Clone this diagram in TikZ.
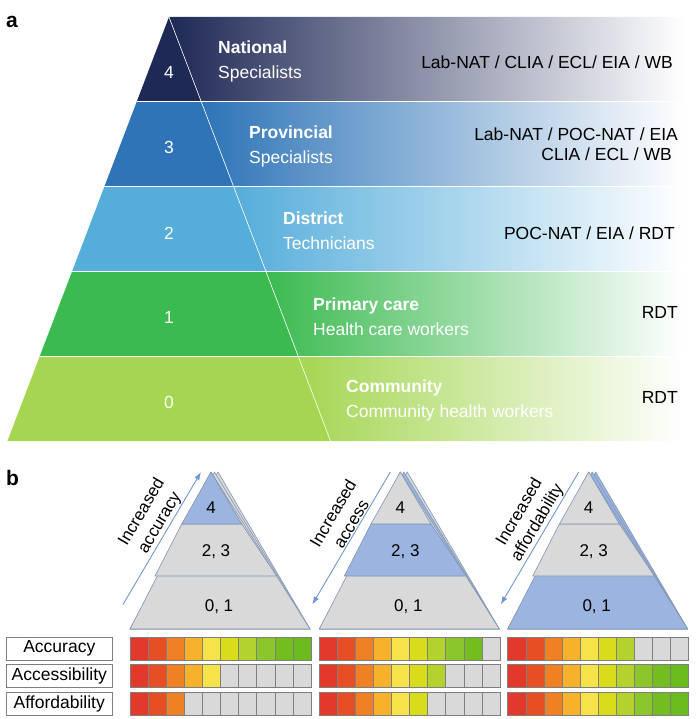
\documentclass[tikz,border=0pt]{standalone}
\usepackage{fontspec}
\setmainfont{Liberation Sans}
\usepackage{xcolor}
\usepackage{tikz}
\usetikzlibrary{
  arrows.meta,
  positioning,
  calc
}
\definecolor{LvlFour}{HTML}{1F2956}
\definecolor{LvlThree}{HTML}{2E74B7}
\definecolor{LvlTwo}{HTML}{55ADDA}
\definecolor{LvlOne}{HTML}{3BBA50}
\definecolor{LvlZero}{HTML}{A4D652}
\definecolor{PyrGrey}{HTML}{D9D9D9}
\definecolor{PyrBlue}{HTML}{9BB5E0}
\definecolor{PyrEdge}{HTML}{8195B5}
\definecolor{ArrowBlue}{HTML}{6F98D2}
\definecolor{CellGrey}{HTML}{D9D9D9}
\definecolor{CellEdge}{HTML}{7F7F7F}
\definecolor{Ramp0}{HTML}{E1392B}
\definecolor{Ramp1}{HTML}{E84E24}
\definecolor{Ramp2}{HTML}{EF8023}
\definecolor{Ramp3}{HTML}{F7B12A}
\definecolor{Ramp4}{HTML}{F6E34A}
\definecolor{Ramp5}{HTML}{D9DC1B}
\definecolor{Ramp6}{HTML}{B3D22B}
\definecolor{Ramp7}{HTML}{8BC62A}
\definecolor{Ramp8}{HTML}{73BE1E}
\definecolor{Ramp9}{HTML}{6BBB1C}

\tikzset{
  txt/.style={inner sep=0pt, font=\fontsize{17.5}{21}\selectfont},
  panellbl/.style={inner sep=0pt, font=\bfseries\fontsize{21}{21}\selectfont},
  tiernum/.style={txt, text=white},
  tiertxt/.style={inner sep=0pt, text=white, align=left, anchor=west,
    font=\fontsize{17.5}{25}\selectfont},
  testtxt/.style={inner sep=0pt, align=right, anchor=east,
    font=\fontsize{17.5}{20.5}\selectfont},
  pyr/.style={draw=PyrEdge, line width=0.6pt, line join=round},
  pyrtxt/.style={txt, font=\fontsize{17}{21}\selectfont},
  incarrow/.style={ArrowBlue, line width=0.9pt, -{Latex[length=8pt,width=5.5pt]}},
  inclbl/.style={inner sep=1pt, align=center, font=\fontsize{17}{21}\selectfont},
  cell/.style={draw=CellEdge, line width=0.5pt},
  rowlbl/.style={draw=CellEdge, fill=white, line width=0.6pt, inner sep=0pt,
    minimum width=105.3pt, minimum height=23pt, font=\fontsize{17.5}{21}\selectfont}
}

\begin{document}
\begin{tikzpicture}[x=1pt,y=-1pt]
  \useasboundingbox (0,0) rectangle (695,719);

  % a: tiers of the network
  \node[panellbl] (lbla) at (12,22) {a};
  \foreach \lv/\col in {0/LvlFour,1/LvlThree,2/LvlTwo,3/LvlOne,4/LvlZero}{
    \pgfmathsetmacro\ya{17+84.8*\lv}
    \pgfmathsetmacro\yb{\ya+84.8}
    \pgfmathsetmacro\la{169-0.381*(\ya-17)}
    \pgfmathsetmacro\lb{169-0.381*(\yb-17)}
    \pgfmathsetmacro\da{169+0.381*(\ya-17)}
    \pgfmathsetmacro\db{169+0.381*(\yb-17)}
    \fill[\col] (\la,\ya) -- (\da,\ya) -- (\db,\yb) -- (\lb,\yb) -- cycle;
    \shade[left color=\col, right color=white]
      (\da,\ya) -- (684,\ya) -- (684,\yb) -- (\db,\yb) -- cycle;
    \ifnum\lv>0
      \draw[white, line width=0.9pt] (\la,\ya) -- (684,\ya);
    \fi
  }
  \draw[white, line width=0.6pt] (169,17) -- (330.5,441);

  \node[tiernum] (n4) at (169,72) {4};
  \node[tiernum] (n3) at (169,147) {3};
  \node[tiernum] (n2) at (169,233) {2};
  \node[tiernum] (n1) at (169,317) {1};
  \node[tiernum] (n0) at (169,402) {0};

  \node[tiertxt] (tier4) at (218,61.5) {\textbf{National}\\Specialists};
  \node[tiertxt] (tier3) at (249,146) {\textbf{Provincial}\\Specialists};
  \node[tiertxt] (tier2) at (283,230.5) {\textbf{District}\\Technicians};
  \node[tiertxt] (tier1) at (313,316.5) {\textbf{Primary care}\\Health care workers};
  \node[tiertxt] (tier0) at (346,400.5) {\textbf{Community}\\Community health workers};

  \node[testtxt] (test4) at (673,62) {Lab-NAT / CLIA / ECL/ EIA / WB};
  \node[testtxt] (test3) at (678,144) {Lab-NAT / POC-NAT / EIA\\CLIA / ECL / WB\hspace*{6pt}};
  \node[testtxt] (test2) at (675,233) {POC-NAT / EIA / RDT};
  \node[testtxt] (test1) at (678,312) {RDT};
  \node[testtxt] (test0) at (678,397) {RDT};

  % b: trade-offs per tier
  \node[panellbl] (lblb) at (12.5,478) {b};
  \foreach \p/\bl/\nearc/\farc/\botc/\midc/\topc/\lbl/\arrA/\arrB/\ps in {
      1/130/PyrGrey/PyrGrey/PyrGrey/PyrGrey/PyrBlue/accuracy/bot/top/0.58,
      2/319.3/PyrBlue/PyrGrey/PyrGrey/PyrBlue/PyrGrey/access/top/bot/0.42,
      3/507.7/PyrBlue/PyrBlue/PyrBlue/PyrGrey/PyrGrey/affordability/top/bot/0.42}{
    \filldraw[pyr, fill=\farc] (\bl,629) -- (\bl+88,472) -- (\bl+180,629) -- cycle;
    \filldraw[pyr, fill=\nearc] (\bl,629) -- (\bl+84.5,472) -- (\bl+180,629) -- cycle;
    \filldraw[pyr, fill=\botc] (\bl,629) -- (\bl+81,472) -- (\bl+180,629) -- cycle;
    \filldraw[pyr, fill=\midc] (\bl+51.7,524) -- (\bl+111.7,524)
      -- (\bl+146.7,576) -- (\bl+25,576) -- cycle;
    \filldraw[pyr, fill=\topc] (\bl+81,472) -- (\bl+111.7,524) -- (\bl+51.7,524) -- cycle;
    \node[pyrtxt] (top\p) at (\bl+81,508) {4};
    \node[pyrtxt] (mid\p) at (\bl+86,552) {2, 3};
    \node[pyrtxt] (bot\p) at (\bl+89,606.5) {0, 1};
    \coordinate (arrtop\p) at (\bl+71,472);
    \coordinate (arrbot\p) at (\bl-7,604.5);
    \draw[incarrow] (arr\arrA\p) -- (arr\arrB\p)
      node[inclbl, pos=\ps, sloped, above, text=black] (inc\p) {Increased\\\lbl};
  }

  % scores, one row per property
  \node[rowlbl] (accuracy) at (59.3,648.5) {Accuracy};
  \node[rowlbl] (access) at (59.3,676) {Accessibility};
  \node[rowlbl] (afford) at (59.3,703.5) {Affordability};
  \foreach \bx/\na/\nb/\nc in {130/10/5/3, 319/9/7/6, 507.7/7/10/10}{
    \foreach \r/\n in {0/\na,1/\nb,2/\nc}{
      \foreach \i in {0,...,9}{
        \pgfmathsetmacro\cx{\bx+18.1*\i}
        \pgfmathsetmacro\cy{637+27.5*\r}
        \ifnum\i<\n\relax \def\cellcol{Ramp\i}\else\def\cellcol{CellGrey}\fi
        \draw[cell, fill=\cellcol] (\cx,\cy) rectangle ++(18.1,23);
      }
    }
  }
\end{tikzpicture}
\end{document}
